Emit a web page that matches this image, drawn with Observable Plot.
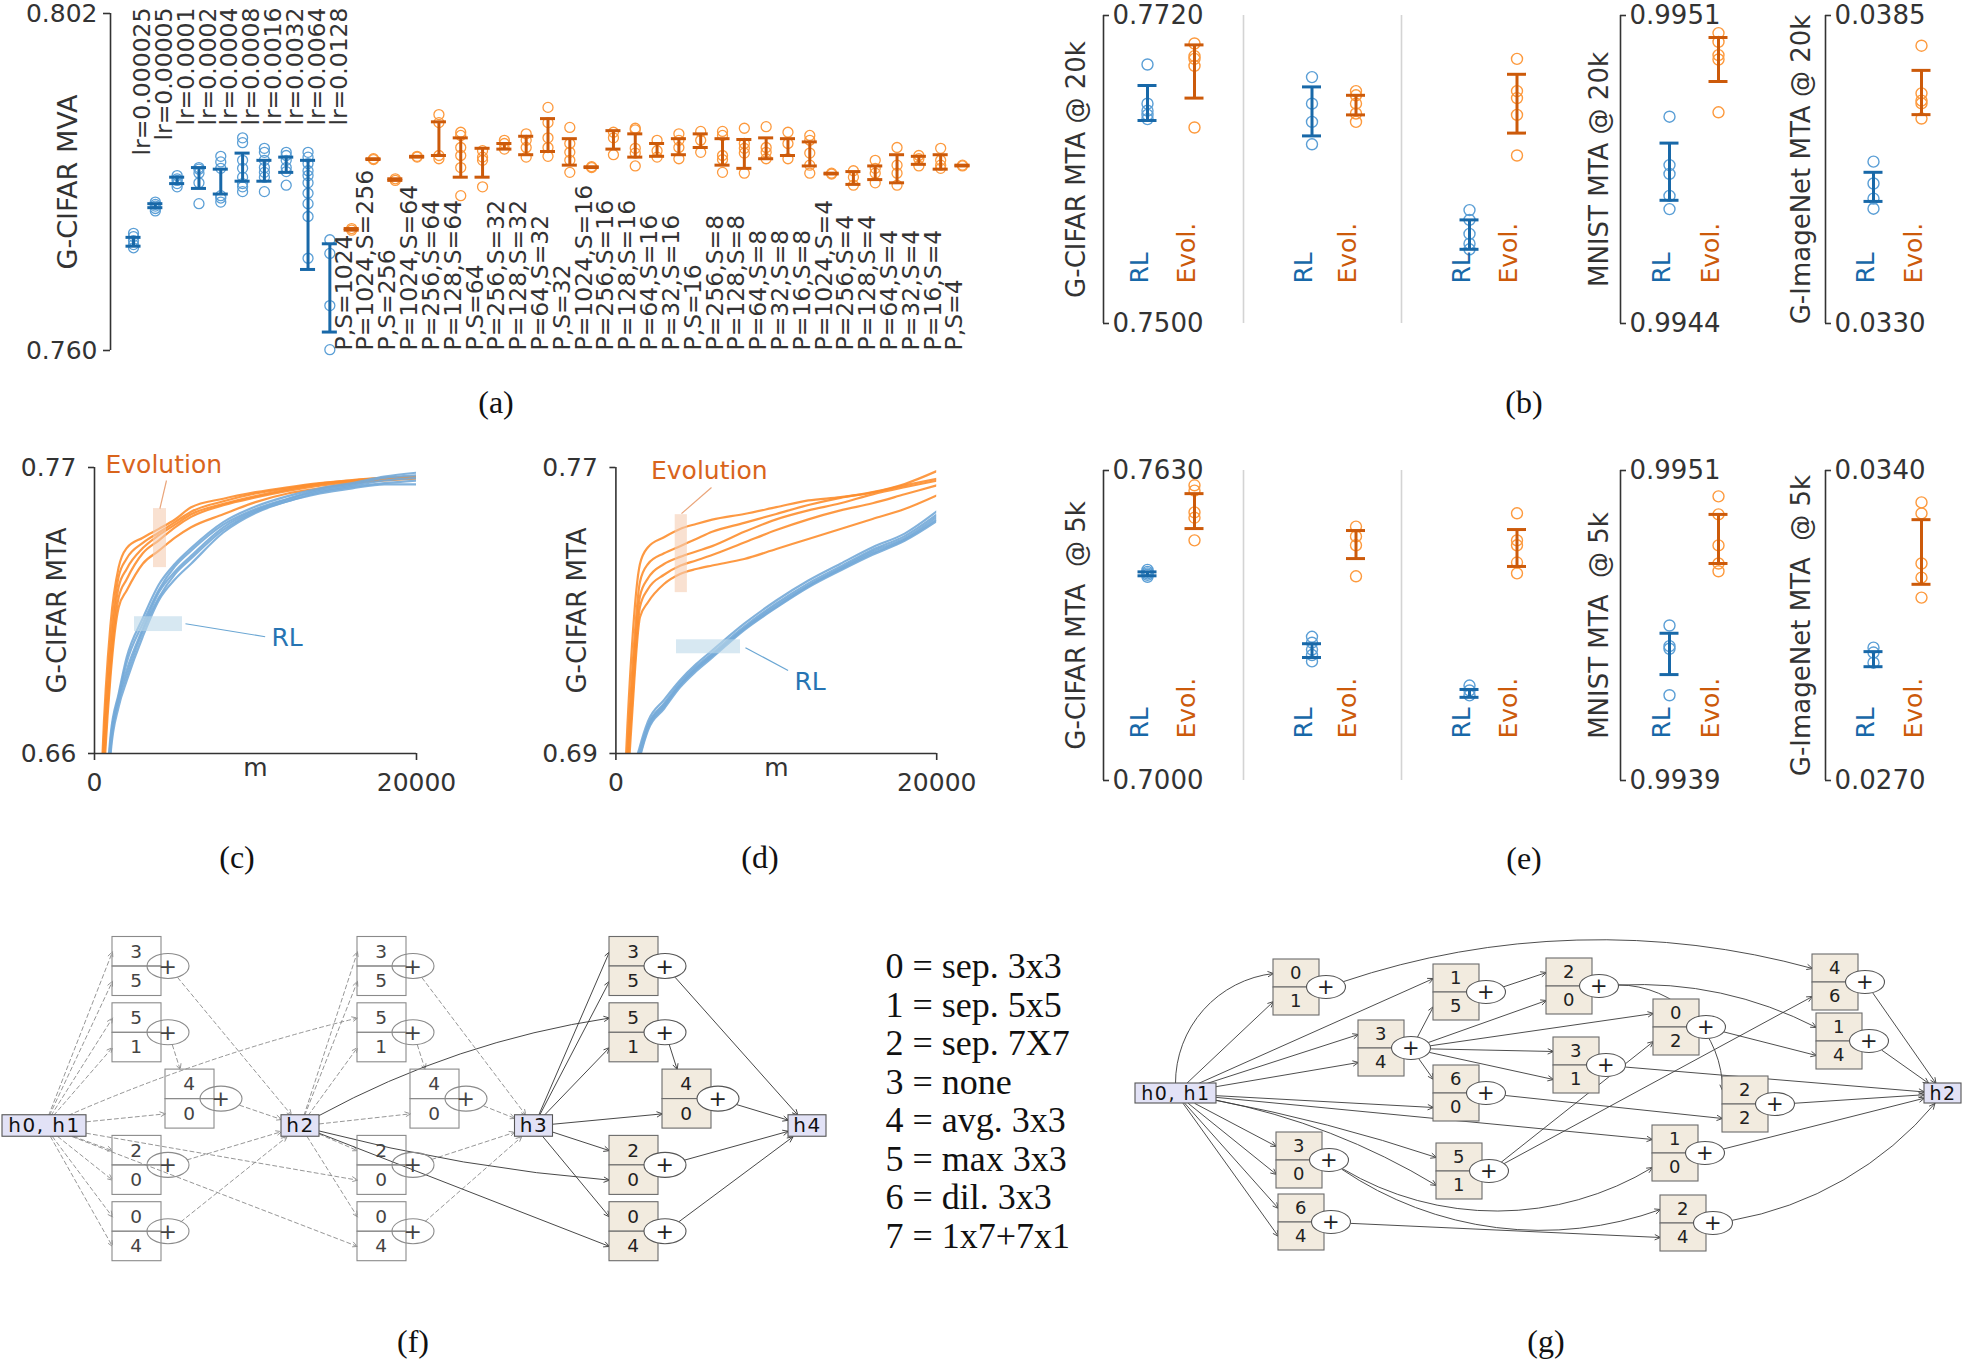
<!DOCTYPE html>
<html>
<head>
<meta charset="utf-8">
<script src="https://cdn.jsdelivr.net/npm/d3@7"></script>
<script src="https://cdn.jsdelivr.net/npm/@observablehq/plot@0.6"></script>
<style>
  html, body { margin:0; padding:0; background:#fff; }
  #root { position:relative; width:1970px; height:1360px; overflow:hidden; background:#fff; }
  #root text { white-space: pre; }
  .panel { position:absolute; }
  .panel svg { display:block; max-width:none; }
  .cap { position:absolute; font-family:"Liberation Serif","Times New Roman",serif; font-size:32px; color:#111; transform:translate(-50%,-50%); line-height:1; white-space:nowrap; }
  .diag text { letter-spacing: 1.5px; }
</style>
</head>
<body>
<div id="root"></div>
<script>
// ======================= DATA =======================
// (a) learning-rate sweep (RL) and population/sample sweep (Evolution)
const lrCats = ["lr=0.000025","lr=0.00005","lr=0.0001","lr=0.0002","lr=0.0004","lr=0.0008","lr=0.0016","lr=0.0032","lr=0.0064","lr=0.0128"];
const lrVals = [
  [0.7746,0.7742,0.7737,0.7732,0.7728],
  [0.7785,0.7782,0.7780,0.7777,0.7774],
  [0.7818,0.7814,0.7812,0.7808,0.7804],
  [0.7828,0.7826,0.7821,0.7809,0.7783],
  [0.7842,0.7835,0.7827,0.7793,0.7790,0.7785],
  [0.7865,0.7859,0.7837,0.7827,0.7816,0.7808,0.7804,0.7798],
  [0.7852,0.7847,0.7837,0.7828,0.7822,0.7816,0.7798],
  [0.7847,0.7843,0.7837,0.7828,0.7823,0.7806],
  [0.7847,0.7841,0.7833,0.7824,0.7818,0.7809,0.7796,0.7783,0.7767,0.7715],
  [0.7738,0.7721,0.7656,0.7601]
];
const lrBars = [[0.7730,0.7741],[0.7778,0.7783],[0.7808,0.7816],[0.7802,0.7828],[0.7795,0.7826],[0.7811,0.7846],[0.7811,0.7837],[0.7822,0.7841],[0.7701,0.7837],[0.7623,0.7733]];

const psCats = ["P,S=1024","P=1024,S=256","P,S=256","P=1024,S=64","P=256,S=64","P=128,S=64","P,S=64","P=256,S=32","P=128,S=32","P=64,S=32","P,S=32","P=1024,S=16","P=256,S=16","P=128,S=16","P=64,S=16","P=32,S=16","P,S=16","P=256,S=8","P=128,S=8","P=64,S=8","P=32,S=8","P=16,S=8","P=1024,S=4","P=256,S=4","P=128,S=4","P=64,S=4","P=32,S=4","P=16,S=4","P,S=4"];
const psVals = [
  [0.7750,0.7752],[0.7838,0.7839],[0.7812,0.7814],[0.7841,0.7842],
  [0.7894,0.7884,0.7843,0.7839],
  [0.7872,0.7868,0.7853,0.7843,0.7828,0.7793],
  [0.7849,0.7841,0.7837,0.7804],
  [0.7862,0.7858,0.7851],
  [0.7870,0.7862,0.7853,0.7841],
  [0.7903,0.7884,0.7865,0.7853,0.7842],
  [0.7878,0.7858,0.7847,0.7837,0.7822],
  [0.7828,0.7829],
  [0.7872,0.7865,0.7844],
  [0.7877,0.7875,0.7852,0.7846,0.7830],
  [0.7862,0.7849,0.7841],
  [0.7870,0.7862,0.7853,0.7839],
  [0.7873,0.7862,0.7847],
  [0.7873,0.7868,0.7843,0.7838,0.7822],
  [0.7877,0.7858,0.7852,0.7846,0.7821],
  [0.7879,0.7853,0.7847,0.7839],
  [0.7872,0.7858,0.7839],
  [0.7868,0.7862,0.7846,0.7831,0.7821],
  [0.7820,0.7821],
  [0.7824,0.7816,0.7806],
  [0.7837,0.7827,0.7821,0.7809],
  [0.7853,0.7831,0.7821,0.7806],
  [0.7843,0.7839,0.7830],
  [0.7852,0.7837,0.7831,0.7827],
  [0.7830,0.7831]
];
const psBars = [[0.7750,0.7752],[0.7838,0.7839],[0.7812,0.7814],[0.7841,0.7842],[0.7843,0.7885],[0.7816,0.7865],[0.7816,0.7852],[0.7851,0.7858],[0.7844,0.7867],[0.7848,0.7889],[0.7831,0.7864],[0.7828,0.7829],[0.7851,0.7874],[0.7841,0.7870],[0.7842,0.7858],[0.7844,0.7864],[0.7853,0.7870],[0.7831,0.7864],[0.7827,0.7863],[0.7839,0.7865],[0.7843,0.7864],[0.7830,0.7860],[0.7820,0.7821],[0.7807,0.7823],[0.7813,0.7830],[0.7809,0.7844],[0.7832,0.7842],[0.7826,0.7844],[0.7830,0.7831]];

// (b) and (e): RL vs Evolution, five panels each
const methods = ["RL","Evol."];
const b20Labels = ["G-CIFAR MTA @ 20k","","","MNIST MTA @ 20k","G-ImageNet MTA @ 20k"];
const b20Dom = [[0.7500,0.7720],[0.7500,0.7720],[0.7500,0.7720],[0.9944,0.9951],[0.0330,0.0385]];
const b20RL = [[0.7685,0.7657,0.7652,0.7649,0.7646],[0.7676,0.7657,0.7644,0.7628],[0.7581,0.7574,0.7564,0.7557,0.7553],[0.99487,0.99476,0.99474,0.99469,0.99466],[0.03589,0.03550,0.03523,0.03505]];
const b20RLbar = [[0.7645,0.7670],[0.7634,0.7669],[0.7553,0.7574],[0.99468,0.99481],[0.03518,0.03570]];
const b20Ev = [[0.7700,0.7691,0.7689,0.7684,0.7640],[0.7666,0.7663,0.7657,0.7650,0.7644],[0.7689,0.7666,0.7661,0.7649,0.7620],[0.99506,0.99504,0.99501,0.99500,0.99488],[0.03796,0.03711,0.03698,0.03693,0.03666]];
const b20Evbar = [[0.7661,0.7699],[0.7649,0.7663],[0.7636,0.7678],[0.99495,0.99505],[0.03673,0.03752]];

const b5Labels = ["G-CIFAR MTA  @ 5k","","","MNIST MTA  @ 5k","G-ImageNet MTA  @ 5k"];
const b5Dom = [[0.7000,0.7630],[0.7000,0.7630],[0.7000,0.7630],[0.9939,0.9951],[0.0270,0.0340]];
const b5RL = [[0.7428,0.7424,0.7421,0.7418,0.7414],[0.7292,0.7280,0.7266,0.7255,0.7242],[0.7193,0.7183,0.7173],[0.99450,0.99442,0.99441,0.99423],[0.03000,0.02989,0.02966]];
const b5RLbar = [[0.7416,0.7424],[0.7250,0.7278],[0.7169,0.7185],[0.99431,0.99447],[0.02957,0.02991]];
const b5Ev = [[0.7600,0.7589,0.7545,0.7534,0.7488],[0.7516,0.7496,0.7478,0.7415],[0.7543,0.7488,0.7478,0.7443,0.7421],[0.99500,0.99493,0.99481,0.99474,0.99471],[0.03328,0.03303,0.03190,0.03158,0.03113]];
const b5Evbar = [[0.7512,0.7583],[0.7451,0.7508],[0.7435,0.7510],[0.99474,0.99493],[0.03143,0.03289]];

// (c) and (d): MTA vs number of models m
const mGrid = [0,500,1000,1500,2000,3000,4000,5000,6000,8000,10000,12000,14000,16000,18000,20000];
const cEvo = [
  [0.55,0.660,0.710,0.7316,0.739,0.743,0.7464,0.750,0.7547,0.758,0.7605,0.7624,0.764,0.7652,0.766,0.7665],
  [0.55,0.655,0.703,0.728,0.735,0.741,0.745,0.749,0.753,0.757,0.760,0.762,0.7638,0.765,0.766,0.7663],
  [0.55,0.650,0.698,0.724,0.731,0.739,0.744,0.748,0.752,0.756,0.759,0.7615,0.7635,0.7648,0.7658,0.7662],
  [0.55,0.645,0.693,0.720,0.727,0.737,0.742,0.747,0.751,0.7555,0.7585,0.761,0.763,0.7645,0.7655,0.766],
  [0.55,0.640,0.690,0.7162,0.7227,0.733,0.738,0.743,0.747,0.752,0.7567,0.760,0.762,0.764,0.765,0.7657]
];
const cRL = [
  [0.55,0.620,0.667,0.683,0.697,0.712,0.725,0.733,0.739,0.749,0.755,0.759,0.762,0.764,0.7665,0.768],
  [0.55,0.615,0.665,0.682,0.695,0.710,0.723,0.732,0.738,0.748,0.754,0.758,0.7615,0.7635,0.766,0.767],
  [0.55,0.610,0.663,0.681,0.692,0.708,0.722,0.730,0.736,0.747,0.7535,0.7578,0.761,0.763,0.765,0.766],
  [0.55,0.605,0.662,0.680,0.690,0.707,0.720,0.729,0.735,0.746,0.753,0.757,0.7605,0.7625,0.764,0.765],
  [0.55,0.600,0.660,0.678,0.688,0.705,0.719,0.727,0.733,0.745,0.7525,0.757,0.760,0.762,0.7635,0.7635]
];
const dEvo = [
  [0.60,0.675,0.720,0.743,0.7477,0.7505,0.7528,0.7542,0.7554,0.757,0.7589,0.7608,0.7617,0.7631,0.7654,0.769],
  [0.60,0.670,0.712,0.738,0.743,0.746,0.748,0.750,0.752,0.7545,0.757,0.7595,0.7615,0.763,0.765,0.7668],
  [0.60,0.668,0.708,0.734,0.739,0.743,0.745,0.7465,0.748,0.752,0.7555,0.758,0.760,0.7625,0.7645,0.7663],
  [0.60,0.665,0.703,0.731,0.736,0.740,0.7425,0.744,0.7455,0.749,0.7525,0.7555,0.758,0.760,0.7625,0.765],
  [0.60,0.660,0.700,0.7281,0.7323,0.7374,0.7402,0.7416,0.7426,0.7444,0.7472,0.750,0.7528,0.7556,0.7584,0.7622]
];
const dRL = [
  [0.60,0.655,0.682,0.692,0.699,0.705,0.7105,0.715,0.7188,0.7263,0.7328,0.7384,0.7431,0.7477,0.7515,0.7577],
  [0.60,0.655,0.681,0.691,0.698,0.704,0.7098,0.7143,0.718,0.7255,0.732,0.7376,0.7423,0.747,0.7508,0.7568],
  [0.60,0.654,0.680,0.690,0.6975,0.7035,0.7092,0.7138,0.7175,0.725,0.7315,0.737,0.7418,0.7465,0.7502,0.7562],
  [0.60,0.653,0.680,0.6895,0.697,0.703,0.709,0.7135,0.7172,0.7248,0.731,0.7368,0.7415,0.746,0.7498,0.7555],
  [0.60,0.652,0.679,0.689,0.6965,0.7025,0.7085,0.713,0.7168,0.7245,0.7308,0.7365,0.7412,0.7456,0.7495,0.755]
];
const cAnnoText = [{label:"Evolution", m:683, v:0.7708, k:"evo"}, {label:"RL", m:10992, v:0.7046, k:"rl"}];
const cAnnoBox = [{m1:3664, m2:4471, v1:0.7315, v2:0.7542, k:"evo"}, {m1:2484, m2:5465, v1:0.7069, v2:0.7126, k:"rl"}];
const cAnnoPtr = [{m1:4471, v1:0.7650, m2:4062, v2:0.7542, k:"evo"}, {m1:5651, v1:0.7099, m2:10600, v2:0.7049, k:"rl"}];
const dAnnoText = [{label:"Evolution", m:2188, v:0.7689, k:"evo"}, {label:"RL", m:11134, v:0.7101, k:"rl"}];
const dAnnoBox = [{m1:3697, m2:4457, v1:0.7350, v2:0.7568, k:"evo"}, {m1:3778, m2:7768, v1:0.7179, v2:0.7218, k:"rl"}];
const dAnnoPtr = [{m1:5960, v1:0.7644, m2:4090, v2:0.7571, k:"evo"}, {m1:8079, v1:0.7196, m2:10735, v2:0.7132, k:"rl"}];

// (f) stacked cells: ops of each block and where its two inputs come from
const fHNodes = ["h0, h1","h2","h3","h4"];
const fHX = [4.4, 30.0, 53.35, 80.7];          // layout (units of 10 px)
const fCellX = [11.2, 35.7, 60.9];             // layout
const fOps = [[3,5],[5,1],[4,0],[2,0],[0,4]];
const fIn = [["h","h"],["hp","h"],[1,"h"],["h","hp"],["h","hp"]];
const fActiveCell = 2;

// (g) discovered cell
const gHNodes = ["h0, h1","h2"];
const gOps = [[0,1],[3,4],[1,5],[6,0],[2,0],[3,1],[3,0],[6,4],[5,1],[0,2],[1,0],[2,4],[2,2],[4,6],[1,4]];
const gIn = [["in","in"],["in","in"],["in",1],[1,"in"],[2,1],[1,1],["in","in"],["in","in"],["in","in"],[1,8],["in",6],[6,7],[4,3],[0,8],[4,9]];
const gLayoutX = [15.3,23.8,31.3,31.3,42.6,43.3,15.6,15.8,31.6,53.3,53.2,54.0,60.2,69.2,69.6];
const gLayoutY = [5.7,11.8,6.2,16.3,5.6,13.5,23.0,29.2,24.1,9.7,22.3,29.3,17.4,5.2,11.1];
const gHLayout = [[5.55,16.3],[82.25,16.3]];

const legendItems = ["0 = sep. 3x3","1 = sep. 5x5","2 = sep. 7X7","3 = none","4 = avg. 3x3","5 = max 3x3","6 = dil. 3x3","7 = 1x7+7x1"];

// ======================= STYLE =======================
const FONT = "DejaVu Sans, Verdana, sans-serif";
const TXT = "#333";
const BLUE_L = "#5b9fd6", BLUE_D = "#1868a8", ORANGE_L = "#fd9a3e", ORANGE_D = "#cc5a0a";
const LINE_O = "#fd8e2f", LINE_B = "#74aad8";
const root = document.getElementById("root");
const baseStyle = {background:"transparent", overflow:"visible", fontFamily:FONT, color:TXT};

function place(svg, left, top, cls) {
  const d = document.createElement("div");
  d.className = "panel" + (cls ? " " + cls : "");
  d.style.left = left + "px"; d.style.top = top + "px";
  d.appendChild(svg); root.appendChild(d);
}
function caption(t, x, y) {
  const d = document.createElement("div");
  d.className = "cap"; d.textContent = t;
  d.style.left = x + "px"; d.style.top = y + "px";
  root.appendChild(d);
}

// ======================= (a) =======================
{
  const cats = lrCats.concat(psCats);
  const dots = [
    ...lrCats.flatMap((c, i) => lrVals[i].map(v => ({cat:c, v, col:BLUE_L}))),
    ...psCats.flatMap((c, i) => psVals[i].map(v => ({cat:c, v, col:ORANGE_L})))
  ];
  const bars = [
    ...lrCats.map((c, i) => ({cat:c, lo:lrBars[i][0], hi:lrBars[i][1], col:BLUE_D})),
    ...psCats.map((c, i) => ({cat:c, lo:psBars[i][0], hi:psBars[i][1], col:ORANGE_D}))
  ];
  place(Plot.plot({
    width:1000, height:380, marginTop:13, marginBottom:30, marginLeft:110, marginRight:15,
    style:baseStyle,
    x:{type:"band", domain:cats, paddingInner:0.31, paddingOuter:0.71, round:false, axis:null},
    y:{domain:[0.760,0.802]},
    marks:[
      Plot.ruleX([cats[0]], {x:d=>d, dx:-23, stroke:TXT, strokeWidth:1.6}),
      Plot.axisY([0.760,0.802], {tickFormat:d3.format(".3f"), tickSize:7, tickPadding:6, fontSize:25, label:null, strokeWidth:1.6}),
      Plot.text(["G-CIFAR MVA"], {text:d=>d, frameAnchor:"left", textAnchor:"middle", dx:-42, rotate:-90, fontSize:27, fill:TXT}),
      Plot.dot(dots, {x:"cat", y:"v", r:5, stroke:"col", strokeWidth:1.3, fill:"none"}),
      Plot.ruleX(bars, {x:"cat", y1:"lo", y2:"hi", stroke:"col", strokeWidth:3}),
      Plot.tickY(bars, {x:"cat", y:"lo", stroke:"col", strokeWidth:3}),
      Plot.tickY(bars, {x:"cat", y:"hi", stroke:"col", strokeWidth:3}),
      Plot.text(lrCats, {x:d=>d, text:d=>d, frameAnchor:"top", dy:-6, rotate:-90, textAnchor:"end", fontSize:23.5, fill:TXT}),
      Plot.text(psCats, {x:d=>d, text:d=>d, frameAnchor:"bottom", rotate:-90, textAnchor:"start", fontSize:23.5, fill:TXT})
    ]
  }), 0, 0);
}

// ======================= (b) and (e) =======================
const subLayout = [
  {axisX:1103, rlX:1147, evX:1194, axis:true, labelX:1076},
  {axisX:1242.5, rlX:1311, evX:1355, axis:false},
  {axisX:1401, rlX:1469, evX:1516.5, axis:false},
  {axisX:1620, rlX:1669, evX:1718, axis:true, labelX:1599},
  {axisX:1825, rlX:1873, evX:1921, axis:true, labelX:1801}
];
function methodPanel(p, cfg) {
  const capW = 19;
  const step = p.evX - p.rlX;
  const pIn = 1 - capW / step;
  const pOut = (p.rlX - p.axisX - capW / 2) / step;
  const innerW = step * (2 - pIn + 2 * pOut);
  const mL = 60;
  const width = Math.ceil(mL + innerW + 4);
  const dots = [
    ...cfg.rl.map(v => ({m:"RL", v, col:BLUE_L})),
    ...cfg.ev.map(v => ({m:"Evol.", v, col:ORANGE_L}))
  ];
  const bars = [
    {m:"RL", lo:cfg.rlBar[0], hi:cfg.rlBar[1], col:BLUE_D},
    {m:"Evol.", lo:cfg.evBar[0], hi:cfg.evBar[1], col:ORANGE_D}
  ];
  const marks = [
    Plot.ruleX(["RL"], {x:d=>d, dx:-(p.rlX - p.axisX), stroke:p.axis ? TXT : "#d4d4d4", strokeWidth:1.6})
  ];
  if (p.axis) {
    marks.push(
      Plot.ruleY(cfg.dom, {y:d=>d, insetRight:innerW - 6, stroke:TXT, strokeWidth:1.6}),
      Plot.text(cfg.dom, {y:d=>d, text:d=>d3.format(".4f")(d), frameAnchor:"left", dx:9, textAnchor:"start", fontSize:26, fill:TXT}),
      Plot.text([cfg.label], {text:d=>d, frameAnchor:"left", textAnchor:"middle", dx:p.labelX - p.axisX, rotate:-90, fontSize:26, fill:TXT})
    );
  }
  marks.push(
    Plot.dot(dots, {x:"m", y:"v", r:5.5, stroke:"col", strokeWidth:1.4, fill:"none"}),
    Plot.ruleX(bars, {x:"m", y1:"lo", y2:"hi", stroke:"col", strokeWidth:3}),
    Plot.tickY(bars, {x:"m", y:"lo", stroke:"col", strokeWidth:3}),
    Plot.tickY(bars, {x:"m", y:"hi", stroke:"col", strokeWidth:3}),
    Plot.text(methods, {x:d=>d, text:d=>d, frameAnchor:"bottom", dy:cfg.mdy, rotate:-90, textAnchor:"start", fontSize:25, fill:d => d === "RL" ? BLUE_D : ORANGE_D})
  );
  place(Plot.plot({
    width, height:cfg.height, marginTop:cfg.mt, marginBottom:cfg.mb, marginLeft:mL, marginRight:width - mL - innerW,
    style:baseStyle,
    x:{type:"band", domain:methods, paddingInner:pIn, paddingOuter:pOut, round:false, axis:null},
    y:{domain:cfg.dom, axis:null},
    marks
  }), p.axisX - mL, cfg.top);
}
subLayout.forEach((p, i) => {
  methodPanel(p, {top:0, height:340, mt:15, mb:17, mdy:-40, dom:b20Dom[i], label:b20Labels[i],
    rl:b20RL[i], ev:b20Ev[i], rlBar:b20RLbar[i], evBar:b20Evbar[i]});
  methodPanel(p, {top:450, height:350, mt:20, mb:20, mdy:-42, dom:b5Dom[i], label:b5Labels[i],
    rl:b5RL[i], ev:b5Ev[i], rlBar:b5RLbar[i], evBar:b5Evbar[i]});
});

// ======================= (c) and (d) =======================
function curvePanel(o) {
  const toRows = (runs, key) => runs.flatMap((s, k) => s.map((v, j) => ({m:mGrid[j], v, run:key + k})));
  const evoRows = toRows(o.evo, "e"), rlRows = toRows(o.rl, "r");
  const pale = d => d.k === "evo" ? "#f5cdb2" : "#bcd8ea";
  const ink = d => d.k === "evo" ? "#d9641c" : "#2674b3";
  const ptr = d => d.k === "evo" ? "#eaa57a" : "#6aa6d3";
  place(Plot.plot({
    width:460, height:360, marginTop:27, marginBottom:47, marginLeft:o.mL, marginRight:o.mR,
    style:baseStyle,
    x:{domain:[0,20000]},
    y:{domain:o.dom},
    marks:[
      Plot.line(evoRows, {x:"m", y:"v", z:"run", stroke:LINE_O, strokeWidth:2.2, strokeOpacity:0.9, curve:"monotone-x", clip:true}),
      Plot.line(rlRows, {x:"m", y:"v", z:"run", stroke:LINE_B, strokeWidth:2.2, strokeOpacity:0.9, curve:"monotone-x", clip:true}),
      Plot.rect(o.box, {x1:"m1", x2:"m2", y1:"v1", y2:"v2", fill:pale, fillOpacity:0.6}),
      Plot.link(o.ptr, {x1:"m1", y1:"v1", x2:"m2", y2:"v2", stroke:ptr, strokeWidth:1.2}),
      Plot.text(o.text, {x:"m", y:"v", text:"label", textAnchor:"start", fill:ink, fontSize:25}),
      Plot.ruleX([0], {x:d=>d, stroke:TXT, strokeWidth:1.6}),
      Plot.ruleY([o.dom[0]], {y:d=>d, stroke:TXT, strokeWidth:1.6}),
      Plot.axisY(o.dom, {tickFormat:".2f", tickSize:6, tickPadding:12, fontSize:25, label:null, strokeWidth:1.6}),
      Plot.axisX([0,20000], {tickFormat:"d", tickSize:7, tickPadding:13, fontSize:25, label:null, strokeWidth:1.6}),
      Plot.text(["m"], {text:d=>d, frameAnchor:"bottom", dy:22, fontSize:25, fill:TXT}),
      Plot.text(["G-CIFAR MTA"], {text:d=>d, frameAnchor:"left", textAnchor:"middle", dx:o.labelDx, rotate:-90, fontSize:26, fill:TXT})
    ]
  }), o.left, 440);
}
curvePanel({left:0, mL:94, mR:44, labelDx:-37, dom:[0.66,0.77], evo:cEvo, rl:cRL, text:cAnnoText, box:cAnnoBox, ptr:cAnnoPtr});
curvePanel({left:520, mL:95.4, mR:43.8, labelDx:-38, dom:[0.69,0.77], evo:dEvo, rl:dRL, text:dAnnoText, box:dAnnoBox, ptr:dAnnoPtr});

// ======================= diagrams (f) and (g) =======================
function rectEdge(cx, cy, hw, hh, dx, dy) {
  const tx = dx === 0 ? Infinity : hw / Math.abs(dx);
  const ty = dy === 0 ? Infinity : hh / Math.abs(dy);
  const t = Math.min(tx, ty);
  return [cx + dx * t, cy + dy * t];
}
function ellEdge(cx, cy, rx, ry, dx, dy) {
  const t = 1 / Math.sqrt((dx / rx) ** 2 + (dy / ry) ** 2);
  return [cx + dx * t, cy + dy * t];
}
function rot(v, deg) {
  const a = deg * Math.PI / 180, c = Math.cos(a), s = Math.sin(a);
  return [v[0] * c - v[1] * s, v[0] * s + v[1] * c];
}
function drawDiagram(o) {
  const G = o.geom;
  const hs = o.hNodes.map(h => ({...h, w:G.hW0 + G.hWc * h.label.length, h:G.hH}));
  const bl = o.blocks.map(b => ({...b, ex:b.x + G.boxW + G.ellGap, ey:b.y}));
  const rows = [];
  for (const e of o.edges) {
    const S = e.src.h !== undefined ? [hs[e.src.h].cx, hs[e.src.h].cy] : [bl[e.src.b].ex, bl[e.src.b].ey];
    let T;
    if (e.dst.h !== undefined) {
      T = [hs[e.dst.h].cx, hs[e.dst.h].cy];
    } else {
      const b = bl[e.dst.b];
      const midY = b.y + (e.dst.port === 0 ? -G.halfH / 2 : G.halfH / 2);
      if (S[0] >= b.x - 0.8) T = [b.x + 0.3 * G.boxW, S[1] < b.y ? b.y - G.halfH : b.y + G.halfH];
      else T = [b.x, midY];
    }
    const chord = [T[0] - S[0], T[1] - S[1]];
    const ds = rot(chord, -e.bend);
    const P1 = e.src.h !== undefined
      ? rectEdge(S[0], S[1], hs[e.src.h].w / 2, hs[e.src.h].h / 2, ds[0], ds[1])
      : ellEdge(S[0], S[1], G.ellRx, G.ellRy, ds[0], ds[1]);
    let P2 = T;
    if (e.dst.h !== undefined) {
      const h = hs[e.dst.h];
      const de = rot([T[0] - P1[0], T[1] - P1[1]], e.bend);
      P2 = rectEdge(h.cx, h.cy, h.w / 2, h.h / 2, -de[0], -de[1]);
    }
    rows.push({x1:P1[0], y1:P1[1], x2:P2[0], y2:P2[1], bend:e.bend, dashed:e.dashed, stroke:e.stroke});
  }
  const groups = d3.groups(rows, r => `${r.bend}|${r.dashed}|${r.stroke}`);
  const arrowMarks = groups.map(([, g]) => Plot.arrow(g, {
    x1:"x1", y1:"y1", x2:"x2", y2:"y2", bend:g[0].bend, stroke:g[0].stroke, strokeWidth:0.9,
    strokeDasharray:g[0].dashed ? "4,3" : null, headLength:10, headAngle:50
  }));
  const halves = bl.flatMap(b => b.ops.map((op, p) => ({
    x1:b.x, x2:b.x + G.boxW,
    y1:p === 0 ? b.y - G.halfH : b.y, y2:p === 0 ? b.y : b.y + G.halfH,
    tx:b.x + G.boxW / 2, ty:b.y + (p === 0 ? -G.halfH / 2 : G.halfH / 2),
    label:String(op), fill:b.fill, stroke:b.stroke, ink:b.ink
  })));
  const svg = Plot.plot({
    width:o.width, height:o.height, margin:0, style:baseStyle,
    x:{domain:[0, o.width / 10], axis:null},
    y:{domain:[0, o.height / 10], reverse:true, axis:null},
    marks:[
      ...arrowMarks,
      Plot.rect(halves, {x1:"x1", x2:"x2", y1:"y1", y2:"y2", fill:"fill", stroke:"stroke", strokeWidth:1.1}),
      Plot.rect(bl, {x1:d => d.ex - G.ellRx, x2:d => d.ex + G.ellRx, y1:d => d.ey - G.ellRy, y2:d => d.ey + G.ellRy,
        rx:G.ellRx * 10, ry:G.ellRy * 10, fill:d => d.ellFill, stroke:d => d.ellStroke, strokeWidth:1.1}),
      Plot.text(halves, {x:"tx", y:"ty", text:"label", fontSize:G.digit, fill:"ink"}),
      Plot.text(bl, {x:"ex", y:"ey", text:() => "+", fontSize:G.plus, fill:d => d.ink}),
      Plot.rect(hs, {x1:d => d.cx - d.w / 2, x2:d => d.cx + d.w / 2, y1:d => d.cy - d.h / 2, y2:d => d.cy + d.h / 2,
        fill:"#e2e2f6", stroke:"#555", strokeWidth:1.1}),
      Plot.text(hs, {x:"cx", y:"cy", text:"label", fontSize:G.hFont, fill:"#111"})
    ]
  });
  place(svg, o.left, o.top, "diag");
}

// (f)
{
  const fBends = {"1:1a":5, "2:1a":10, "2:3b":-5};
  const hNodes = fHNodes.map((label, i) => ({label, cx:fHX[i], cy:20.55}));
  const blocks = [], edges = [];
  fCellX.forEach((cx, c) => {
    const active = c === fActiveCell;
    fOps.forEach((ops, r) => {
      const shifted = fIn[r].some(s => typeof s === "number");
      blocks.push({ops, x:cx + (shifted ? 5.3 : 0), y:4.6 + r * 6.63,
        fill:active ? "#f2ebdf" : "none", stroke:active ? "#6b6b6b" : "#8a8a8a",
        ellFill:active ? "white" : "none", ellStroke:active ? "#555" : "#8a8a8a", ink:active ? "#222" : "#444"});
    });
    const used = new Set();
    const stroke = active ? "#333" : "#8a8a8a";
    fIn.forEach((ins, r) => ins.forEach((s, p) => {
      let src;
      if (s === "h") src = {h:c};
      else if (s === "hp") src = {h:Math.max(c - 1, 0)};
      else { src = {b:c * 5 + s}; used.add(s); }
      edges.push({src, dst:{b:c * 5 + r, port:p}, bend:fBends[`${c}:${r}${"ab"[p]}`] || 0, dashed:!active, stroke});
    }));
    fOps.forEach((_, r) => { if (!used.has(r)) edges.push({src:{b:c * 5 + r}, dst:{h:c + 1}, bend:0, dashed:!active, stroke}); });
  });
  drawDiagram({left:0, top:920, width:860, height:360, hNodes, blocks, edges,
    geom:{boxW:4.9, halfH:2.95, ellGap:0.7, ellRx:2.1, ellRy:1.25, hH:2.15, hW0:1.5, hWc:1.15, digit:18.5, plus:22, hFont:20}});
}

// (g)
{
  const gBends = {"in>0a":42, "0>13a":17, "4>14a":15, "4>12a":45, "6>10b":-31, "6>11a":-27, "in>8a":4, "in>8b":10, "11>out":-20};
  const hNodes = gHNodes.map((label, i) => ({label, cx:gHLayout[i][0], cy:gHLayout[i][1]}));
  const blocks = gOps.map((ops, i) => ({ops, x:gLayoutX[i], y:gLayoutY[i], fill:"#f2ebdf", stroke:"#6b6b6b",
    ellFill:"white", ellStroke:"#555", ink:"#222"}));
  const edges = [];
  const used = new Set();
  gIn.forEach((ins, i) => ins.forEach((s, p) => {
    const src = s === "in" ? {h:0} : {b:s};
    if (s !== "in") used.add(s);
    edges.push({src, dst:{b:i, port:p}, bend:gBends[`${s}>${i}${"ab"[p]}`] || 0, dashed:false, stroke:"#3a3a3a"});
  }));
  gOps.forEach((_, i) => { if (!used.has(i)) edges.push({src:{b:i}, dst:{h:1}, bend:gBends[`${i}>out`] || 0, dashed:false, stroke:"#3a3a3a"}); });
  drawDiagram({left:1120, top:930, width:860, height:340, hNodes, blocks, edges,
    geom:{boxW:4.6, halfH:2.8, ellGap:0.7, ellRx:1.95, ellRy:1.15, hH:2.0, hW0:1.5, hWc:1.1, digit:18, plus:21, hFont:19}});
}

// legend of op codes
place(Plot.plot({
  width:250, height:320, marginTop:26, marginBottom:24.5, marginLeft:15, marginRight:0,
  style:baseStyle,
  x:{domain:[0,1], axis:null},
  y:{domain:[0, legendItems.length - 1], reverse:true, axis:null},
  marks:[
    Plot.text(legendItems, {x:0, y:(d, i) => i, text:d => d, textAnchor:"start", fontSize:36,
      fontFamily:"Liberation Serif, Times New Roman, serif", fill:"#111"})
  ]
}), 870, 940);

// captions
caption("(a)", 496, 402);
caption("(b)", 1524, 402);
caption("(c)", 237, 857);
caption("(d)", 760, 857);
caption("(e)", 1524, 858);
caption("(f)", 413, 1341);
caption("(g)", 1546, 1341);
</script>
</body>
</html>
